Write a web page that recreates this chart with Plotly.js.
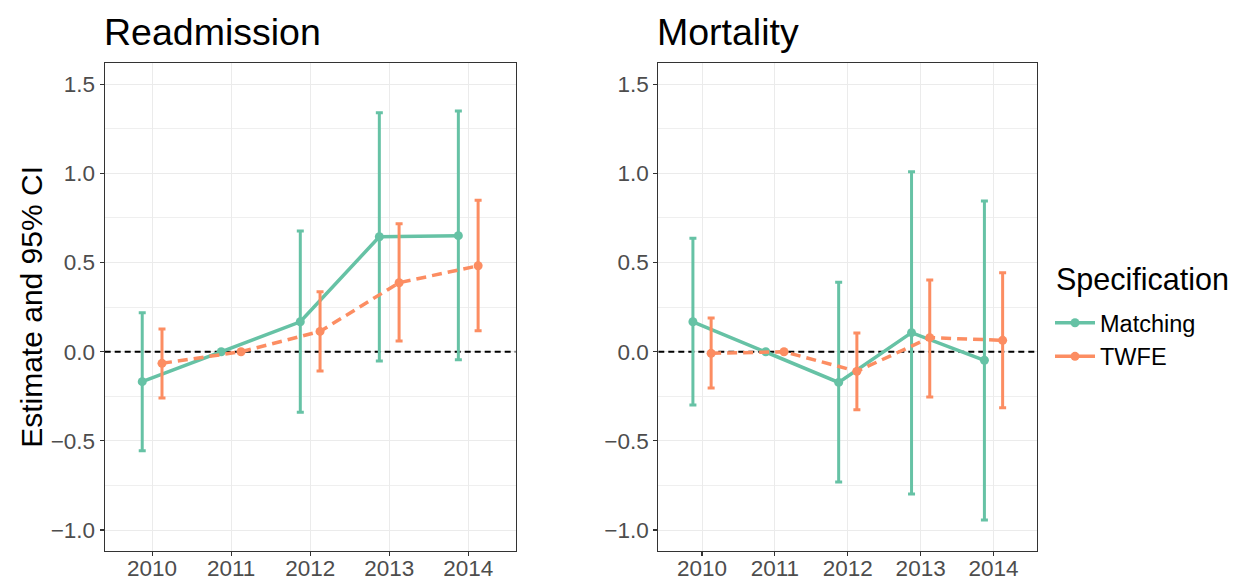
<!DOCTYPE html>
<html><head><meta charset="utf-8">
<script src="https://cdn.plot.ly/plotly-3.0.1.min.js"></script>
<style>html,body{margin:0;padding:0;background:#fff}#chart{width:1236px;height:580px}</style>
</head><body><div id="chart"></div>
<script>
// ---- data ----
const years = [2010, 2011, 2012, 2013, 2014];
const tickLabels = ['2010', '2011', '2012', '2013', '2014'];
const yTicks = [-1.0, -0.5, 0.0, 0.5, 1.0, 1.5];
const specs = ['Matching', 'TWFE'];
const panels = ['Readmission', 'Mortality'];
const legendTitle = 'Specification';
const yTitle = 'Estimate and 95% CI';
const refLineValue = 0;

const readmMatchEst = [-0.168, 0, 0.168, 0.645, 0.651];
const readmMatchLo  = [-0.555, 0, -0.340, -0.052, -0.045];
const readmMatchHi  = [0.219, 0, 0.677, 1.340, 1.350];
const readmTwfeEst  = [-0.065, 0, 0.114, 0.387, 0.482];
const readmTwfeLo   = [-0.260, 0, -0.108, 0.060, 0.118];
const readmTwfeHi   = [0.127, 0, 0.337, 0.718, 0.849];

const mortMatchEst = [0.168, 0, -0.172, 0.107, -0.048];
const mortMatchLo  = [-0.299, 0, -0.731, -0.798, -0.944];
const mortMatchHi  = [0.636, 0, 0.389, 1.010, 0.845];
const mortTwfeEst  = [-0.009, 0, -0.110, 0.079, 0.064];
const mortTwfeLo   = [-0.204, 0, -0.325, -0.254, -0.314];
const mortTwfeHi   = [0.189, 0, 0.105, 0.402, 0.443];

// ---- style ----
const FONT = 'Liberation Sans, Arial, Helvetica, sans-serif';
const colors = {Matching: '#66c2a5', TWFE: '#fc8d62'};
const dashes = {Matching: 'solid', TWFE: '10px,6px'};
const dodge = {Matching: -0.125, TWFE: 0.125};
const xRange = [2009.4, 2014.6];
const yRange = [-1.116, 1.621];
const yDom = [0.0505, 0.8919];

function makeTrace(est, lo, hi, spec, xa, ya) {
  return {
    type: 'scatter', mode: 'lines+markers',
    x: years.map(y => y + dodge[spec]), y: est,
    xaxis: xa, yaxis: ya, name: spec, showlegend: false,
    line: {color: colors[spec], width: 3.5, dash: dashes[spec]},
    marker: {color: colors[spec], size: 9},
    error_y: {type: 'data', symmetric: false,
      array: hi.map((h, i) => h - est[i]),
      arrayminus: lo.map((l, i) => est[i] - l),
      color: colors[spec], thickness: 3, width: 3.5},
    hoverinfo: 'x+y'
  };
}
function refLine(xa, ya) {
  return {type: 'scatter', mode: 'lines', x: xRange, y: xRange.map(() => refLineValue),
    xaxis: xa, yaxis: ya, showlegend: false, hoverinfo: 'skip', cliponaxis: true,
    line: {color: '#000000', width: 1.8, dash: '6px,4px'}};
}

const traces = [
  refLine('x', 'y'),
  refLine('x2', 'y2'),
  makeTrace(readmMatchEst, readmMatchLo, readmMatchHi, 'Matching', 'x', 'y'),
  makeTrace(readmTwfeEst, readmTwfeLo, readmTwfeHi, 'TWFE', 'x', 'y'),
  makeTrace(mortMatchEst, mortMatchLo, mortMatchHi, 'Matching', 'x2', 'y2'),
  makeTrace(mortTwfeEst, mortTwfeLo, mortTwfeHi, 'TWFE', 'x2', 'y2'),
];
// legend keys
specs.forEach(s => traces.push({
  type: 'scatter', mode: 'lines+markers', x: [null], y: [null], name: s,
  showlegend: true, line: {color: colors[s], width: 3.5}, marker: {color: colors[s], size: 9}
}));

function xAxis(dom, anchor) {
  return {domain: dom, anchor: anchor, range: xRange, tickvals: years, ticktext: tickLabels,
    showgrid: true, gridcolor: '#ebebeb', gridwidth: 1, zeroline: false,
    showline: true, mirror: true, linecolor: '#333333', linewidth: 1.1,
    ticks: 'outside', ticklen: 4, tickwidth: 1.1, tickcolor: '#333333', ticklabelstandoff: -7,
    tickfont: {family: FONT, size: 22.5, color: '#4d4d4d'}, fixedrange: true};
}
function yAxis(anchor) {
  return {domain: yDom, anchor: anchor, range: yRange, tickvals: yTicks, tickformat: '.1f',
    showgrid: true, gridcolor: '#ebebeb', gridwidth: 1, zeroline: false,
    minor: {dtick: 0.25, tick0: 0, showgrid: true, gridcolor: '#ebebeb', gridwidth: 0.8},
    showline: true, mirror: true, linecolor: '#333333', linewidth: 1.1,
    ticks: 'outside', ticklen: 4, tickwidth: 1.1, tickcolor: '#333333',
    tickfont: {family: FONT, size: 22.5, color: '#4d4d4d'}, fixedrange: true};
}

const layout = {
  width: 1236, height: 580,
  margin: {l: 0, r: 0, t: 0, b: 0},
  paper_bgcolor: '#ffffff', plot_bgcolor: '#ffffff',
  font: {family: FONT, color: '#000000'},
  xaxis: xAxis([0.0847, 0.4172], 'y'),
  yaxis: yAxis('x'),
  xaxis2: xAxis([0.5326, 0.8392], 'y2'),
  yaxis2: yAxis('x2'),
  annotations: [
    {text: panels[0], xref: 'x domain', yref: 'paper', x: 0, y: 0.945, xanchor: 'left', yanchor: 'middle',
     xshift: -3, showarrow: false, font: {family: FONT, size: 37.5, color: '#000000'}},
    {text: panels[1], xref: 'x2 domain', yref: 'paper', x: 0, y: 0.945, xanchor: 'left', yanchor: 'middle',
     xshift: -3, showarrow: false, font: {family: FONT, size: 37.5, color: '#000000'}},
    {text: yTitle, xref: 'paper', yref: 'paper', x: 32 / 1236, y: 0.471,
     xanchor: 'center', yanchor: 'middle', textangle: -90, showarrow: false,
     font: {family: FONT, size: 30, color: '#000000'}},
    {text: legendTitle, xref: 'paper', yref: 'paper', x: 1054 / 1236, y: 1 - 279 / 580,
     xanchor: 'left', yanchor: 'middle', showarrow: false,
     font: {family: FONT, size: 30.5, color: '#000000'}}
  ],
  legend: {
    font: {family: FONT, size: 23.5, color: '#000000'},
    x: 1050 / 1236, xanchor: 'left', y: 1 - 340 / 580, yanchor: 'middle',
    bgcolor: 'rgba(0,0,0,0)', itemwidth: 40, tracegroupgap: 0
  },
  showlegend: true
};

Plotly.newPlot('chart', traces, layout, {displayModeBar: false, staticPlot: true});
</script>
</body></html>
